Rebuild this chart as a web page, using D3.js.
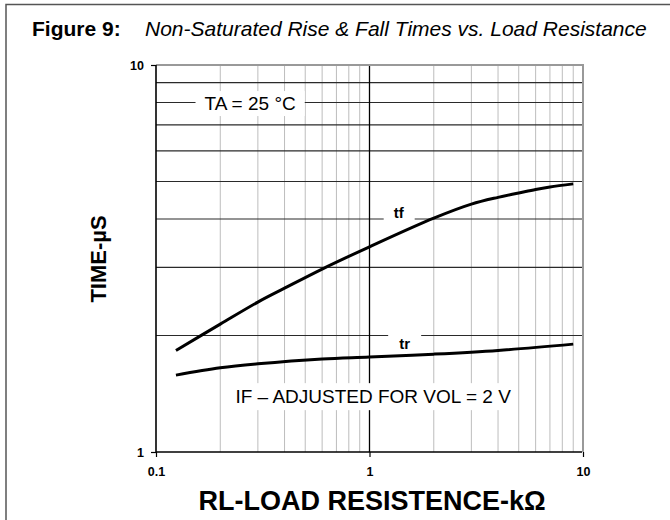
<!DOCTYPE html>
<html>
<head>
<meta charset="utf-8">
<script src="https://cdn.jsdelivr.net/npm/d3@7"></script>
<style>
  body { margin: 0; background: #fff; }
  text { font-family: "Liberation Sans", Arial, sans-serif; }
</style>
</head>
<body>
<div id="chart"></div>
<script>
// Figure 9: rise & fall times vs. load resistance (log-log)
const width = 670;
const height = 520;

// Axis ticks and grid values
const xTicks = [0.1, 1, 10];
const yTicks = [1, 10];
const xMinor = [0.2, 0.3, 0.4, 0.5, 0.6, 0.7, 0.8, 0.9, 2, 3, 4, 5, 6, 7, 8, 9];
const yMinor = [2, 3, 4, 5, 6, 7, 8, 9];

// Curves (kOhm, us)
const tfR = [0.124, 0.2, 0.3, 0.4, 0.6, 1.0, 2.0, 3.0, 4.0, 5.0, 6.0, 7.0, 9.0];
const tfT = [1.83, 2.14, 2.44, 2.65, 2.97, 3.39, 4.02, 4.37, 4.55, 4.67, 4.77, 4.84, 4.93];
const trR = [0.124, 0.2, 0.3, 0.6, 1.0, 2.0, 4.0, 9.0];
const trT = [1.58, 1.65, 1.69, 1.74, 1.76, 1.79, 1.83, 1.90];

const svg = d3.select("#chart")
    .append("svg")
    .attr("width", width)
    .attr("height", height);

// outer frame (only left and top edges show)
svg.append("path")
    .attr("d", "M6,530V4.5H680")
    .attr("fill", "none")
    .attr("stroke", "#555")
    .attr("stroke-width", 1.5);

// title
const title = svg.append("text").attr("y", 36).attr("font-size", 21);
title.append("tspan").attr("x", 32).attr("font-weight", "bold").text("Figure 9:");
title.append("tspan").attr("x", 145).attr("font-style", "italic")
    .text("Non-Saturated Rise & Fall Times vs. Load Resistance");

// scales
const x = d3.scaleLog().domain([0.1, 10]).range([156, 583]);
const y = d3.scaleLog().domain([1, 10]).range([452, 65]);

// grid
svg.append("g").selectAll("line")
    .data(xMinor)
    .join("line")
    .attr("x1", d => x(d)).attr("x2", d => x(d))
    .attr("y1", y(10)).attr("y2", y(1))
    .attr("stroke", "#bdbdbd")
    .attr("stroke-width", 1);

svg.append("g").selectAll("line")
    .data(yMinor)
    .join("line")
    .attr("x1", x(0.1)).attr("x2", x(10))
    .attr("y1", d => y(d)).attr("y2", d => y(d))
    .attr("stroke", "#2a2a2a")
    .attr("stroke-width", 1.2);

svg.append("line")
    .attr("x1", x(1)).attr("x2", x(1))
    .attr("y1", y(10)).attr("y2", y(1))
    .attr("stroke", "#000")
    .attr("stroke-width", 1.3);

// top and right borders are grey
svg.append("path")
    .attr("d", `M${x(0.1)},${y(10)}H${x(10)}V${y(1)}`)
    .attr("fill", "none")
    .attr("stroke", "#999")
    .attr("stroke-width", 2);

// annotation labels with white patches over the grid
function label(xv, yv, txt, size, weight, padX, padY) {
    const g = svg.append("g");
    const t = g.append("text")
        .attr("x", x(xv))
        .attr("y", y(yv))
        .attr("text-anchor", "middle")
        .attr("dominant-baseline", "central")
        .attr("font-size", size)
        .attr("font-weight", weight)
        .attr("fill", "#000")
        .text(txt);
    const b = t.node().getBBox();
    g.insert("rect", "text")
        .attr("x", b.x - padX).attr("y", b.y - padY)
        .attr("width", b.width + 2 * padX).attr("height", b.height + 2 * padY)
        .attr("fill", "#fff");
    return g;
}

label(0.276, 7.95, "TA = 25 °C", 19, "normal", 9, 2);
label(1.37, 4.15, "tf", 15, "bold", 10, 2);
label(1.46, 1.91, "tr", 15, "bold", 11, 2);
label(1.04, 1.39, "IF \u2013 ADJUSTED FOR VOL = 2 V", 19, "normal", 6, 3);

// curves
const line = d3.line()
    .x(d => x(d[0]))
    .y(d => y(d[1]))
    .curve(d3.curveCatmullRom.alpha(0.5));

[[tfR, tfT], [trR, trT]].forEach(([rs, ts]) => {
    svg.append("path")
        .datum(rs.map((r, i) => [r, ts[i]]))
        .attr("d", line)
        .attr("fill", "none")
        .attr("stroke", "#000")
        .attr("stroke-width", 3);
});

// axes
const xAxis = svg.append("g")
    .attr("transform", `translate(0,${y(1)})`)
    .call(d3.axisBottom(x).tickValues(xTicks).tickFormat(d => String(d)).tickSizeInner(5).tickSizeOuter(0).tickPadding(10));
const yAxis = svg.append("g")
    .attr("transform", `translate(${x(0.1)},0)`)
    .call(d3.axisLeft(y).tickValues(yTicks).tickFormat(d => String(d)).tickSizeInner(5).tickSizeOuter(0).tickPadding(7));

[xAxis, yAxis].forEach(a => {
    a.select(".domain").attr("stroke", "#000").attr("stroke-width", 1.6);
    a.selectAll(".tick line").attr("stroke", "#000").attr("stroke-width", 1.2);
    a.selectAll(".tick text")
        .attr("font-family", "\"Liberation Sans\", Arial, sans-serif")
        .attr("font-size", 12.5)
        .attr("font-weight", "bold")
        .attr("fill", "#000");
});
xAxis.select(".domain").attr("d", `M${x(0.1)},0H${x(10) - 1}`);
yAxis.select(".domain").attr("d", `M0,${y(10)}V${y(1)}`);

// axis titles
svg.append("text")
    .attr("transform", "translate(98,259) rotate(-90)")
    .attr("text-anchor", "middle")
    .attr("dominant-baseline", "central")
    .attr("font-size", 22)
    .attr("font-weight", "bold")
    .text("TIME-µS");

svg.append("text")
    .attr("x", 372)
    .attr("y", 510)
    .attr("text-anchor", "middle")
    .attr("font-size", 27)
    .attr("font-weight", "bold")
    .text("RL-LOAD RESISTENCE-kΩ");
</script>
</body>
</html>
